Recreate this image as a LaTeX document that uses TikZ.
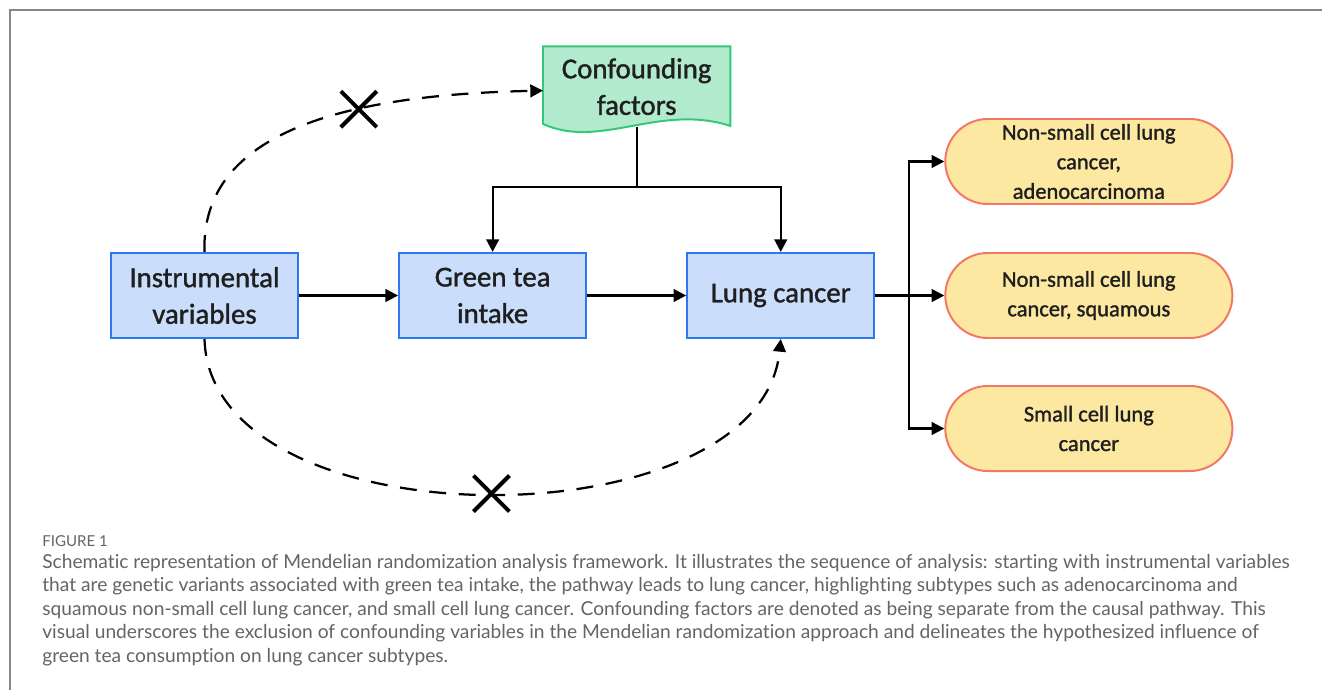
\documentclass[tikz,border=0pt]{standalone}
\usepackage{fontspec}
\setmainfont{Carlito}
\newfontfamily\boxfont{Carlito}[FakeBold=1.3]
\newfontfamily\capfont{Lato}[Ligatures=NoCommon]
\usepackage{xcolor}
\usepackage{tikz}
\usetikzlibrary{arrows.meta,shapes,shapes.misc,positioning,calc,backgrounds}
\definecolor{expblue}{RGB}{45,120,240}
\definecolor{confgreen}{RGB}{50,200,120}
\definecolor{outsalmon}{RGB}{240,120,100}
\definecolor{outyellow}{RGB}{252,232,160}
\definecolor{captiongray}{RGB}{100,100,100}
\definecolor{framegray}{RGB}{135,135,135}

\begin{document}
\begin{tikzpicture}[
    x=0.025cm, y=-0.025cm,
    box/.style={rectangle, draw=expblue, fill=expblue!25, line width=1.6pt, minimum width=4.67cm, minimum height=2.12cm, inner sep=2pt, align=center, text=black!88, font=\boxfont\fontsize{20.5}{26}\selectfont},
    confound/.style={rectangle, minimum width=4.67cm, minimum height=2cm, inner sep=2pt, align=center, text=black!88, font=\boxfont\fontsize{20.5}{26}\selectfont},
    outcome/.style={rectangle, draw=outsalmon, fill=outyellow, rounded corners=1.06cm, line width=1.4pt, minimum width=7.175cm, minimum height=2.125cm, inner sep=2pt, align=center, text=black!88, font=\boxfont\fontsize{16}{21}\selectfont},
    arrow/.style={-{Triangle[length=9pt,width=9pt]}, line width=1.6pt},
    dashline/.style={arrow, dash pattern=on 12pt off 9pt},
    xmark/.style={cross out, draw, solid, line width=2.8pt, minimum size=0.8cm, inner sep=0pt},
    captitle/.style={anchor=north west, inner sep=0pt, text=captiongray, font=\capfont\fontsize{10.7}{12}\selectfont},
    capbody/.style={anchor=north west, inner sep=0pt, align=left, text=captiongray, font=\capfont\fontsize{13.65}{16.7}\selectfont}
]
    \useasboundingbox (0,0) rectangle (1322,690);
    \draw[framegray, line width=1.5pt] (10,690) -- (10,10) -- (1322,10);

    % main pathway
    \node[box] (iv) at (204.5,295.5) {Instrumental\\variables};
    \node[box, right=2.475cm of iv] (gt) {Green tea\\intake};
    \node[box, right=2.475cm of gt] (lc) {Lung cancer};

    % subtypes
    \node[outcome, right=1.725cm of lc] (nsclcsq) {Non-small cell lung\\cancer, squamous};
    \node[outcome, above=1.175cm of nsclcsq] (nsclcad) {Non-small cell lung\\cancer,\\adenocarcinoma};
    \node[outcome, below=1.15cm of nsclcsq] (sclc) {Small cell lung\\cancer};

    % confounders
    \coordinate (mid) at ($(gt.north)!0.5!(lc.north)$);
    \node[confound, above=3.125cm of mid] (cf) {Confounding\\factors};
    \begin{scope}[on background layer]
        \draw[confgreen, fill=confgreen!38, line width=1.4pt]
            (cf.north west) -- (cf.north east) -- ([yshift=0.025cm]cf.south east)
            .. controls +(-1.775cm,0.575cm) and +(1.425cm,-0.65cm) .. ([yshift=0.075cm]cf.south west) -- cycle;
    \end{scope}

    \coordinate[below=1.5cm of cf.south] (cfjoin);
    \draw[line width=1.6pt] (cf.south) -- (cfjoin);
    \draw[arrow] (cfjoin) -| (gt.north);
    \draw[arrow] (cfjoin) -| (lc.north);

    \draw[arrow] (iv) -- (gt);
    \draw[arrow] (gt) -- (lc);

    \coordinate[right=0.85cm of lc.east] (split);
    \draw[line width=1.6pt] (lc.east) -- (split);
    \draw[arrow] (split) |- (nsclcad.west);
    \draw[arrow] (split) -- (nsclcsq.west);
    \draw[arrow] (split) |- (sclc.west);

    % excluded paths
    \draw[dashline] (iv.north) .. controls +(-0.1cm,3.05cm) and +(-4.825cm,-0.1cm) .. ([yshift=-0.1cm]cf.west)
        node[pos=0.645, xmark] (xtop) {};
    \draw[dashline] (iv.south) .. controls +(0.1375cm,-5.15cm) and +(-0.5cm,-5.15cm) .. (lc.south)
        node[pos=0.505, xmark] (xbot) {};

    % caption
    \node[captitle] (figlabel) at (42,535) {FIGURE 1};
    \node[capbody] (figtext) at (42,554) {Schematic representation of Mendelian randomization analysis framework. It illustrates the sequence of analysis: starting with instrumental variables\\
that are genetic variants associated with green tea intake, the pathway leads to lung cancer, highlighting subtypes such as adenocarcinoma and\\
squamous non-small cell lung cancer, and small cell lung cancer. Confounding factors are denoted as being separate from the causal pathway. This\\
visual underscores the exclusion of confounding variables in the Mendelian randomization approach and delineates the hypothesized influence of\\
green tea consumption on lung cancer subtypes.};
\end{tikzpicture}
\end{document}
